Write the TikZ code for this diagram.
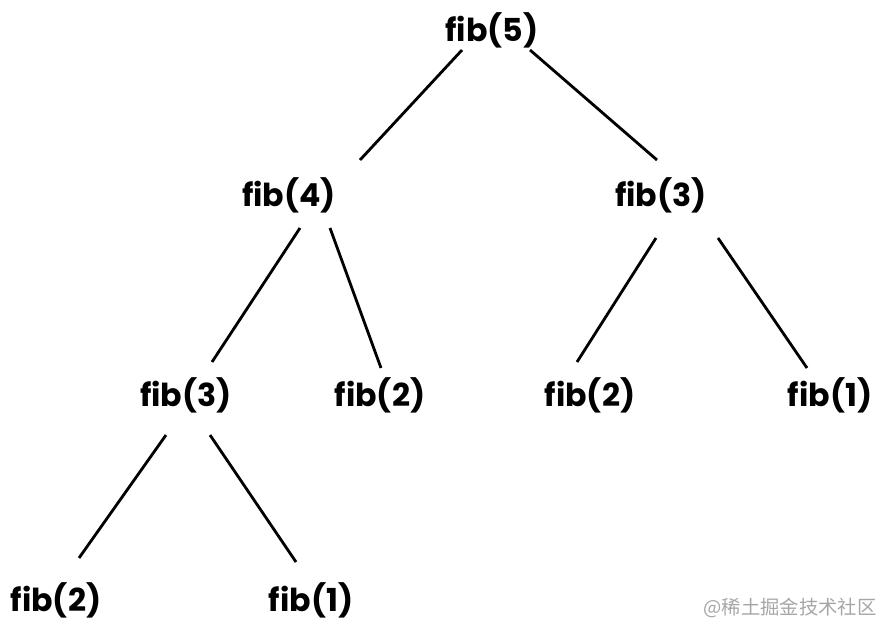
\documentclass[tikz,border=0pt]{standalone}
\usepackage{fontspec}
\setmainfont{Poppins}
\newfontfamily\cjkfont{Noto Sans CJK SC}
\usetikzlibrary{calc}

\begin{document}
\begin{tikzpicture}[
  x=0.02cm, y=-0.02cm,   % one unit = one pixel of the reference, y downwards
  line width=1.6pt,
  % every call of the recursion is a bare bold label
  call/.style={inner sep=0pt,font=\fontsize{18}{22}\selectfont\bfseries},
  edge/.style={line cap=butt},
  watermark/.style={inner sep=0pt,font=\fontsize{11}{13}\selectfont\cjkfont,text=black!35,anchor=east},
]

\useasboundingbox (0,0) rectangle (881,628);

%--- the calls, row by row ---------------------------------------------------
\node[call] (f5)  at (492,30)  {fib(5)};

\node[call] (f4)  at (289,195) {fib(4)};
\node[call] (f3r) at (661,195) {fib(3)};

\node[call] (f3l) at (186,395) {fib(3)};
\node[call] (f2m) at (380,395) {fib(2)};
\node[call] (f2r) at (590,395) {fib(2)};
\node[call] (f1r) at (830,395) {fib(1)};

\node[call] (f2b) at (56,600)  {fib(2)};
\node[call] (f1b) at (311,600) {fib(1)};

%--- parent to child, with the gap the reference leaves round each label -----
\draw[edge] ([shift={(-30,20)}]f5.center)  -- ([shift={(71,-35)}]f4.center);
\draw[edge] ([shift={(38,20)}]f5.center)   -- ([shift={(-4,-35)}]f3r.center);

\draw[edge] ([shift={(11,33)}]f4.center)   -- ([shift={(26,-33)}]f3l.center);
\draw[edge] ([shift={(41,33)}]f4.center)   -- ([shift={(1,-27)}]f2m.center);

\draw[edge] ([shift={(-5,43)}]f3r.center)  -- ([shift={(-13,-33)}]f2r.center);
\draw[edge] ([shift={(57,43)}]f3r.center)  -- ([shift={(-23,-27)}]f1r.center);

\draw[edge] ([shift={(-20,40)}]f3l.center) -- ([shift={(23,-42)}]f2b.center);
\draw[edge] ([shift={(24,40)}]f3l.center)  -- ([shift={(-15,-38)}]f1b.center);

%--- watermark ---------------------------------------------------------------
\node[watermark] (wm) at (878,608) {@稀土掘金技术社区};

\end{tikzpicture}
\end{document}
